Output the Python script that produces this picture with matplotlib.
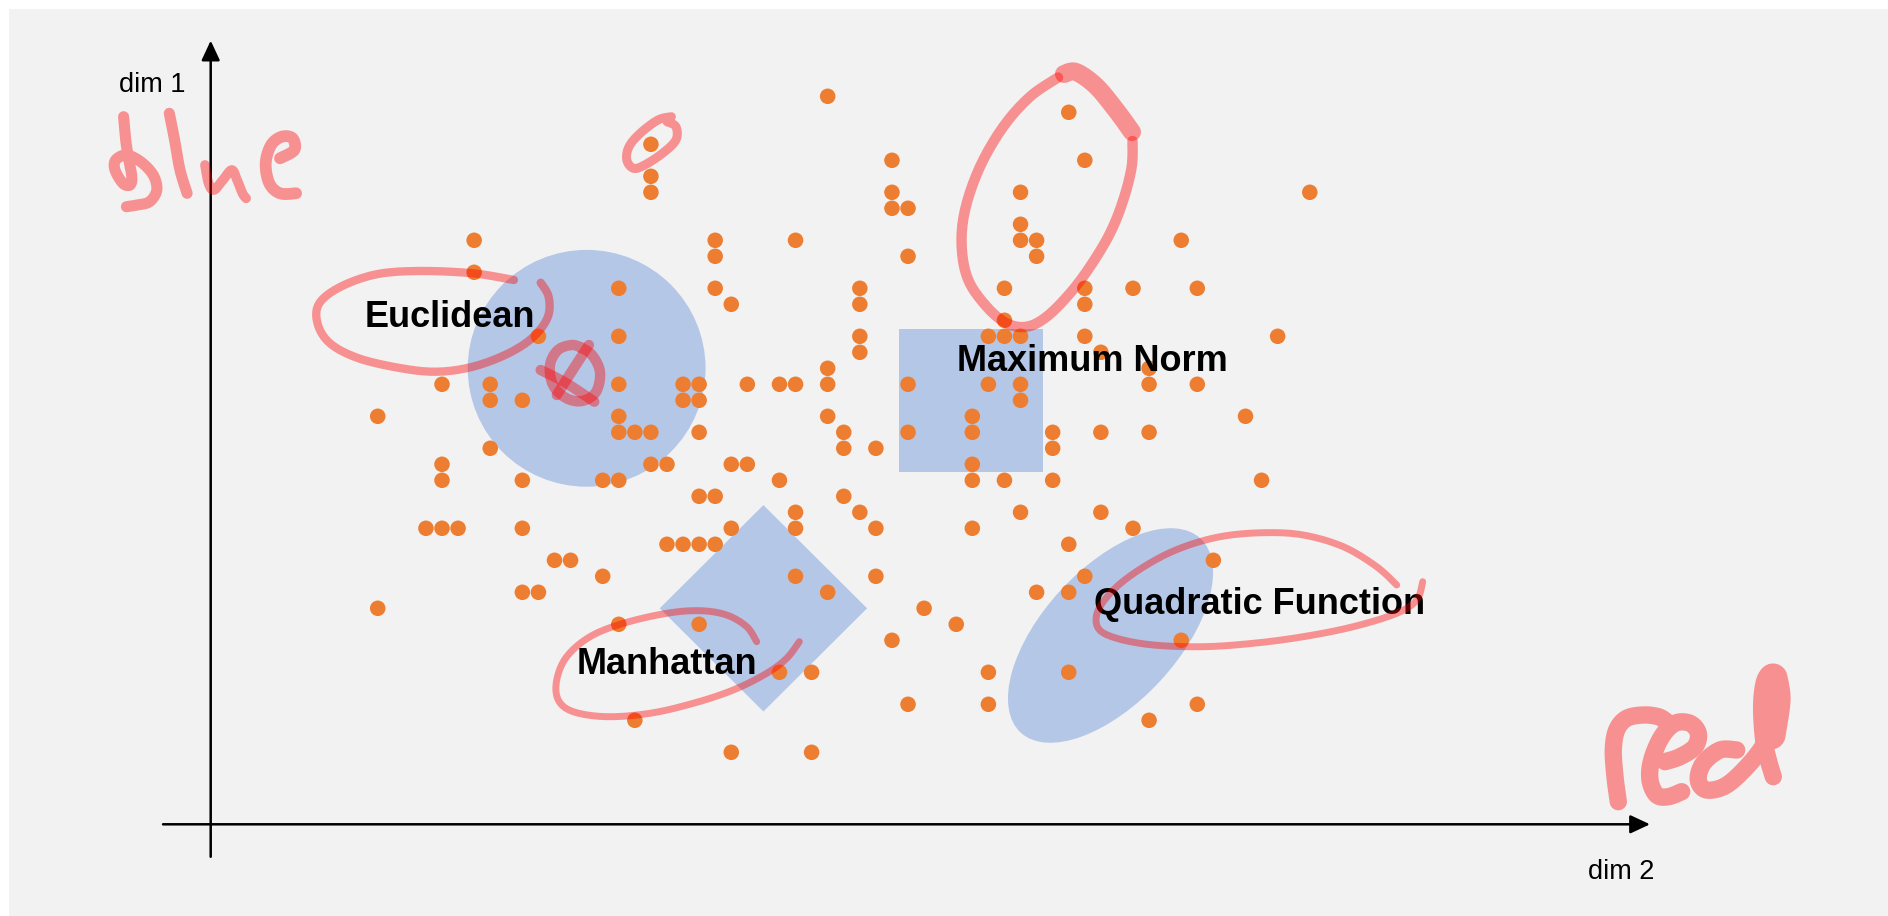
import numpy as np
import matplotlib.pyplot as plt
from matplotlib.patches import Ellipse, Rectangle, Polygon

plt.rcParams['font.family'] = ['Liberation Sans', 'DejaVu Sans']

# sample points on an integer grid: one row of dim 1 holds several dim 2 values
point_rows = [45, 44, 42, 41, 40, 39, 38, 37, 36, 35, 34, 33, 32, 31, 30, 29, 28, 27,
              26, 25, 24, 23, 22, 21, 20, 19, 18, 17, 16, 15, 14, 13, 12, 11, 9, 7, 6, 4]
point_cols = [
    [39], [54], [28], [43, 55], [28], [28, 43, 51, 69], [43, 44], [51],
    [17, 32, 37, 51, 52, 61], [32, 44, 52], [17], [26, 32, 41, 50, 55, 58, 62],
    [33, 41, 55], [50], [21, 26, 41, 49, 50, 51, 55, 67], [41, 56], [39, 59],
    [15, 18, 26, 30, 31, 34, 36, 37, 39, 44, 49, 51, 59, 62], [18, 20, 30, 31, 51],
    [11, 26, 39, 48, 65], [26, 27, 28, 31, 40, 44, 48, 53, 56, 59], [18, 40, 42, 53],
    [15, 28, 29, 33, 34, 48], [15, 20, 25, 26, 36, 48, 50, 53, 66], [31, 32, 40],
    [37, 41, 51, 56], [14, 15, 16, 20, 33, 37, 42, 48, 58], [29, 30, 31, 32, 54],
    [22, 23, 63], [25, 37, 42, 55], [20, 21, 39, 52, 54], [11, 45], [26, 31, 47],
    [43, 61], [36, 38, 49, 54], [44, 49, 62], [27, 59], [33, 38],
]

# distance "balls" (grid units)
euclid_center = (24.0, 28.0)
euclid_radius = 7.4
maxnorm_center = (47.9, 26.0)
maxnorm_half = 4.48
manhattan_center = (35.0, 13.0)
manhattan_half = 6.45
quad_center = (56.6, 11.3)
quad_width, quad_height, quad_angle = 16.5, 8.4, 47.4

labels = ['Euclidean', 'Maximum Norm', 'Manhattan', 'Quadratic Function']

# hand-drawn ink on the slide, in slide pixels (x, y from top-left)
ink_blue_b = [(123.6, 116.7), (125.7, 140), (128.2, 156.7), (131.8, 176.7), (130, 185), (122.9, 183.3),
              (115, 170), (115.7, 160), (126.4, 155), (140.7, 161.7), (153.2, 175), (156.8, 190),
              (149.6, 201.7), (137.1, 205), (126.4, 206.7)]
ink_blue_l = [(169.3, 113.3), (174.6, 140), (180, 170), (187.1, 193.3)]
ink_blue_u = [(205, 165), (208.6, 183.3), (213.9, 190), (222.9, 180), (231.8, 170), (237.1, 180),
              (242.5, 193.3), (246.1, 198.3)]
ink_blue_e = [(280, 158.3), (294.3, 150), (292.5, 138.3), (281.8, 136.7), (271.1, 145), (265.7, 163.3),
              (269.3, 183.3), (280, 193.3), (296.1, 193.3)]
ink_euclid = [(513.9, 280), (472.9, 273.3), (419.3, 271), (376.4, 274.3), (340.7, 286.7), (319.3, 303.3),
              (317.5, 323.3), (330, 343.3), (358.6, 358.3), (401.4, 368.3), (437.1, 371.7), (472.9, 366.7),
              (508.6, 353.3), (533.6, 336.7), (547.9, 316.7), (548.6, 296.7), (540.7, 282.7)]
ink_oval = [(580, 347), (592, 355), (600, 372), (596, 392), (582, 401), (566, 398), (553, 385),
            (550, 365), (558, 350), (572, 345), (582, 348)]
ink_slash = [(588.9, 345), (572, 371), (556.8, 395)]
ink_cross = [(540.7, 370), (566, 383), (594.3, 401.7)]
ink_small = [(671.4, 116.7), (658, 120), (640.2, 133.3), (629, 146.7), (626.8, 160), (633.5, 168.3),
             (644.6, 165), (662.5, 153.3), (675.9, 140), (675.9, 126.7), (667, 121.7)]
ink_maxnorm = [(1058, 77.5), (1030, 96.7), (1003.3, 126.7), (980, 166.7), (965, 210), (961.7, 246.7),
               (968.3, 280), (986.7, 306.7), (1006.7, 323.3), (1026.7, 326.7), (1046.7, 316.7),
               (1070, 293.3), (1090, 266.7), (1110, 233.3), (1123.3, 200), (1131.7, 166.7), (1132.5, 141)]
ink_maxnorm_top = [(1064, 74), (1076, 72), (1096, 86), (1116, 110), (1132, 132)]
ink_manhattan = [(756.7, 641.7), (746.7, 626.7), (726.7, 615), (700, 610.7), (666.7, 613.3), (623.3, 623.3),
                 (590, 636.7), (566.7, 656.7), (556.7, 680), (558.3, 700), (573.3, 711.7), (606.7, 716.7),
                 (650, 713.3), (693.3, 703.3), (733.3, 690), (766.7, 673.3), (786.7, 658.3), (799.3, 641.7)]
ink_quad = [(1396.7, 585), (1376.7, 566.7), (1343.3, 546.7), (1303.3, 535), (1263.3, 532.7), (1220, 536.7),
            (1180, 548.3), (1146.7, 565), (1116.7, 586.7), (1098.3, 610), (1098.3, 628.3), (1116.7, 638.3),
            (1153.3, 645), (1203.3, 646.7), (1253.3, 643.3), (1303.3, 636.7), (1353.3, 626.7),
            (1396.7, 613.3), (1416.7, 600), (1422.7, 581.7)]
ink_red_r = [(1618.3, 801.7), (1615, 776.7), (1613.3, 750), (1616.7, 730), (1626.7, 718.3), (1643.3, 715),
             (1658.3, 716.7), (1666.7, 721.7)]
ink_red_e = [(1665, 761.7), (1680, 756.7), (1695, 746.7), (1698.3, 733.3), (1690, 723.3), (1675, 723.3),
             (1661.7, 736.7), (1651.7, 760), (1650, 780), (1656.7, 795), (1668.3, 796.7), (1681.7, 791.7)]
ink_red_d = [(1736.7, 750), (1720, 750), (1703.3, 763.3), (1698.3, 780), (1706.7, 790), (1726.7, 785),
             (1750, 763.3), (1766.7, 740), (1775, 716.7), (1776.7, 690), (1771.7, 675), (1765, 680),
             (1761.7, 703.3), (1763.3, 736.7), (1768.3, 760), (1773.3, 776.7)]
ink_red_d_blob = [(1773, 678), (1776, 700), (1771, 735)]

# slide geometry
W, H = 1888, 916
X0_PX, Y0_PX = 200.96, 816.3
UNIT_X, UNIT_Y = 16.07, 16.0

BLUE = '#B4C7E7'
ORANGE = '#ED7D31'
INK_FLAT = '#F79191'  # red at 40% over the slide grey


def smooth(pts, n=10):
    # catmull-rom through the pen samples, so strokes look drawn rather than polygonal
    p = np.asarray(pts, dtype=float)
    p = np.vstack([p[0], p, p[-1]])
    out = []
    for i in range(1, len(p) - 2):
        p0, p1, p2, p3 = p[i - 1], p[i], p[i + 1], p[i + 2]
        for t in np.linspace(0, 1, n, endpoint=False):
            t2, t3 = t * t, t * t * t
            out.append(0.5 * (2 * p1 + (p2 - p0) * t + (2 * p0 - 5 * p1 + 4 * p2 - p3) * t2
                              + (3 * p1 - p0 - 3 * p2 + p3) * t3))
    out.append(p[-2])
    out = np.array(out)
    return out[:, 0], out[:, 1]


fig = plt.figure(figsize=(W / 100, H / 100), dpi=100)
fig.patch.set_facecolor('white')
fig.add_artist(Rectangle((9 / W, 0), 1, (H - 9) / H, transform=fig.transFigure,
                         facecolor='#F2F2F2', edgecolor='none', zorder=-10))

ax = fig.add_axes([0, 0, 1, 1])
ax.set_xlim(-X0_PX / UNIT_X, (W - X0_PX) / UNIT_X)
ax.set_ylim(-(H - Y0_PX) / UNIT_Y, Y0_PX / UNIT_Y)
ax.axis('off')
ax.patch.set_alpha(0)

# shapes
ax.add_patch(Ellipse(euclid_center, 2 * euclid_radius, 2 * euclid_radius,
                     facecolor=BLUE, edgecolor='none', zorder=1))
ax.add_patch(Rectangle((maxnorm_center[0] - maxnorm_half, maxnorm_center[1] - maxnorm_half),
                       2 * maxnorm_half, 2 * maxnorm_half, facecolor=BLUE, edgecolor='none', zorder=1))
cx, cy = manhattan_center
ax.add_patch(Polygon([(cx, cy + manhattan_half), (cx + manhattan_half, cy),
                      (cx, cy - manhattan_half), (cx - manhattan_half, cy)],
                     closed=True, facecolor=BLUE, edgecolor='none', zorder=1))
ax.add_patch(Ellipse(quad_center, quad_width, quad_height, angle=quad_angle,
                     facecolor=BLUE, edgecolor='none', zorder=1))

# points
xs = [c for row, cols in zip(point_rows, point_cols) for c in cols]
ys = [row for row, cols in zip(point_rows, point_cols) for c in cols]
ax.scatter(xs, ys, s=125, color=ORANGE, edgecolors='none', zorder=2)

# axes arrows
arrow = dict(arrowstyle='-|>,head_length=0.6,head_width=0.28', mutation_scale=20,
             lw=1.8, color='black', shrinkA=0, shrinkB=0)
ax.annotate('', xy=(0.606, 48.48), xytext=(0.606, -2.53), arrowprops=arrow, zorder=3)
ax.annotate('', xy=(90.17, -0.5), xytext=(-2.36, -0.5), arrowprops=arrow, zorder=3)
ax.text(-3.05, 45.29, 'dim 1', fontsize=19.5, ha='center', va='baseline', zorder=3)
ax.text(88.37, -3.94, 'dim 2', fontsize=19.5, ha='center', va='baseline', zorder=3)

label_pos = [(15.48, 30.56), (55.45, 27.83), (28.98, 8.875), (65.85, 12.64)]
for name, (lx, ly) in zip(labels, label_pos):
    ax.text(lx, ly, name, fontsize=26, fontweight='bold', ha='center', va='baseline', zorder=3)

# ink layer on top
ink = fig.add_axes([0, 0, 1, 1])
ink.set_xlim(0, W)
ink.set_ylim(H, 0)
ink.axis('off')
ink.patch.set_alpha(0)

strokes = [
    (ink_blue_b, 8), (ink_blue_l, 8), (ink_blue_u, 7), (ink_blue_e, 8.5),
    (ink_euclid, 6), (ink_oval, 7.5), (ink_slash, 7.5), (ink_cross, 7.5), (ink_small, 6.5),
    (ink_maxnorm, 7.5), (ink_maxnorm_top, 13),
    (ink_manhattan, 5), (ink_quad, 5),
]
for pts, w in strokes:
    px, py = smooth(pts)
    ink.plot(px, py, color='red', alpha=0.4, lw=w, solid_capstyle='round', solid_joinstyle='round')

# "red" only sits on the plain grey, so draw it flat to keep overlaps even
for pts, w in [(ink_red_r, 12.5), (ink_red_e, 12.5), (ink_red_d, 12.5), (ink_red_d_blob, 21)]:
    px, py = smooth(pts)
    ink.plot(px, py, color=INK_FLAT, lw=w, solid_capstyle='round', solid_joinstyle='round')

fig.savefig('out.png', dpi=100)
